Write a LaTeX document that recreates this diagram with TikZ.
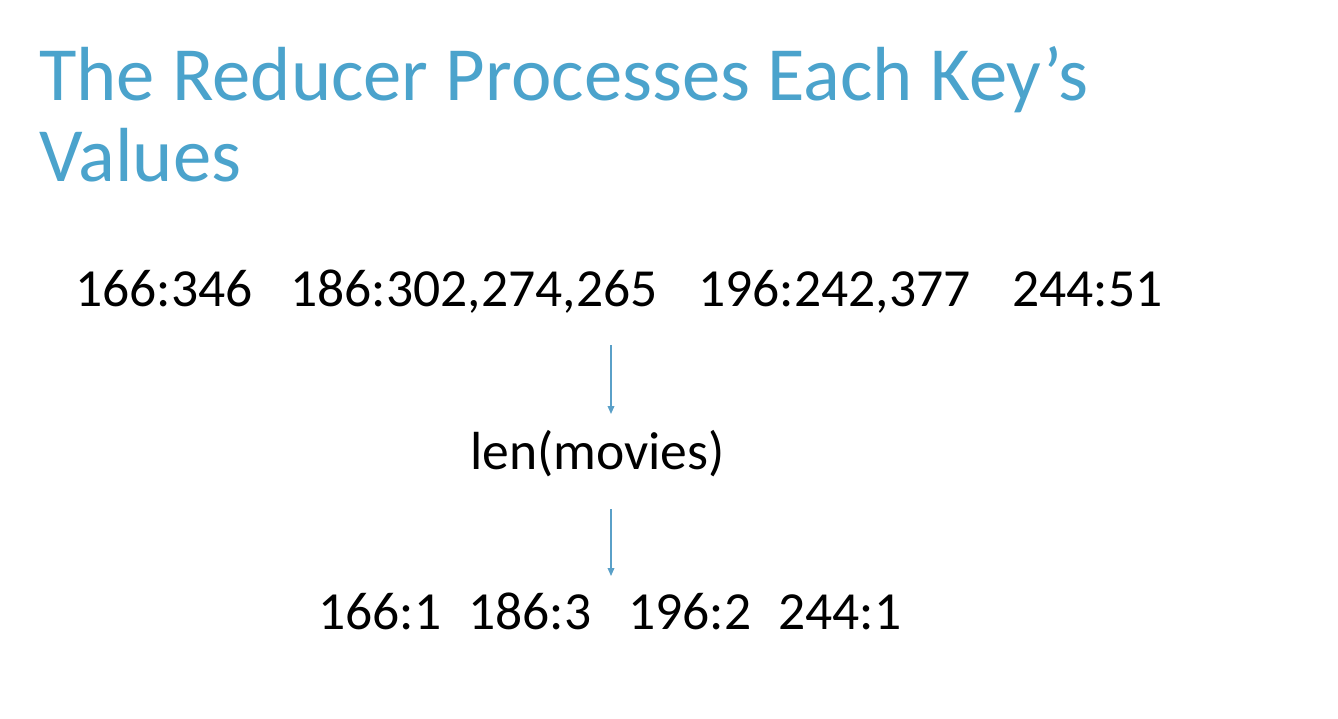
\documentclass[tikz,border=0pt]{standalone}
\usepackage{fontspec}
\setmainfont{Carlito}
\usetikzlibrary{arrows.meta}
\definecolor{titleblue}{RGB}{75,163,204}
\definecolor{arrowblue}{RGB}{90,160,200}
\begin{document}
\begin{tikzpicture}[x=0.75pt,y=-0.75pt,
  title/.style={anchor=base west,inner sep=0pt,text=titleblue,font=\fontsize{57.5}{58}\selectfont},
  body/.style={anchor=base west,inner sep=0pt,text=black,font=\fontsize{40.2}{41}\selectfont},
  flow/.style={draw=arrowblue,line width=1pt,-{Triangle[length=6pt,width=5pt]}}]
  % page area
  \fill[white] (0,0) rectangle (1338,718);
  \useasboundingbox (0,0) rectangle (1338,718);
  % heading
  \node[title] (t1) at (39,100) {The Reducer Processes Each Key’s};
  \node[title] (t2) at (39,181) {Values};
  % grouped keys with their values
  \node[body] (k1) at (75,306) {166:346};
  \node[body] (k2) at (290,306) {186:302,274,265};
  \node[body] (k3) at (698,306) {196:242,377};
  \node[body] (k4) at (1012,306) {244:51};
  % reducer function
  \node[body] (fn) at (470,469) {len(movies)};
  % reduced output
  \node[body] (r1) at (318,629) {166:1};
  \node[body] (r2) at (468,629) {186:3};
  \node[body] (r3) at (628,629) {196:2};
  \node[body] (r4) at (778,629) {244:1};
  % arrow end points
  \coordinate (a1s) at (611,345);
  \coordinate (a1e) at (611,414);
  \coordinate (a2s) at (611,509);
  \coordinate (a2e) at (611,576);
  \draw[flow] (a1s) -- (a1e);
  \draw[flow] (a2s) -- (a2e);
\end{tikzpicture}
\end{document}
